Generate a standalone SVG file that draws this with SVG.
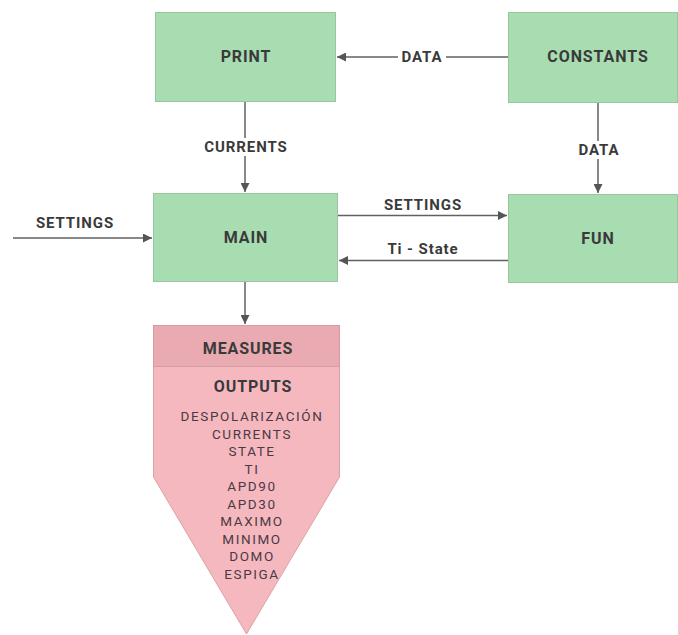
<svg xmlns="http://www.w3.org/2000/svg" width="678" height="635" viewBox="0 0 678 635">
<defs>
<style>
.box{fill:#a8dcb1;stroke:#97c79f;stroke-width:1}
.lbl{font-family:Roboto,"Liberation Sans",sans-serif;font-weight:bold;font-size:16px;fill:#3a3a3a;text-anchor:middle;letter-spacing:0.9px}
.edge{stroke:#616161;stroke-width:1.5;fill:none}
.elbl{font-family:Roboto,"Liberation Sans",sans-serif;font-weight:bold;font-size:15px;fill:#3a3a3a;text-anchor:middle;letter-spacing:0.9px}
.item{font-family:Roboto,"Liberation Sans",sans-serif;font-size:13.5px;fill:#4a3a44;text-anchor:middle;letter-spacing:1.6px}
</style>
<marker id="ah" viewBox="0 0 10 10" refX="10" refY="5" markerWidth="9" markerHeight="9" markerUnits="userSpaceOnUse" orient="auto">
<path d="M0,0 L10,5 L0,10 z" fill="#555"/>
</marker>
</defs>
<rect width="678" height="635" fill="#fff"/>
<g id="connectors">
<line class="edge" x1="508" y1="57" x2="337" y2="57" marker-end="url(#ah)"/>
<rect x="398" y="48" width="48" height="18" fill="#fff"/>
<text class="elbl" x="422" y="62">DATA</text>
<line class="edge" x1="245" y1="101" x2="245" y2="192" marker-end="url(#ah)"/>
<rect x="198" y="138" width="95" height="18" fill="#fff"/>
<text class="elbl" x="246" y="152">CURRENTS</text>
<line class="edge" x1="598" y1="102" x2="598" y2="193" marker-end="url(#ah)"/>
<rect x="574" y="141" width="50" height="18" fill="#fff"/>
<text class="elbl" x="599" y="155">DATA</text>
<line class="edge" x1="13" y1="238" x2="152" y2="238" marker-end="url(#ah)"/>
<text class="elbl" x="75" y="228">SETTINGS</text>
<line class="edge" x1="338" y1="215.5" x2="507" y2="215.5" marker-end="url(#ah)"/>
<text class="elbl" x="423" y="210">SETTINGS</text>
<line class="edge" x1="508" y1="260.5" x2="339" y2="260.5" marker-end="url(#ah)"/>
<text class="elbl" x="423" y="254">Ti - State</text>
<line class="edge" x1="245" y1="282" x2="245" y2="324" marker-end="url(#ah)"/>
</g>
<g id="print">
<rect class="box" x="155.5" y="12.5" width="180" height="89"/>
<text class="lbl" x="246" y="62">PRINT</text>
</g>
<g id="constants">
<rect class="box" x="508.5" y="12.5" width="169" height="90"/>
<text class="lbl" x="598" y="62">CONSTANTS</text>
</g>
<g id="main">
<rect class="box" x="153.5" y="193.5" width="184" height="88"/>
<text class="lbl" x="246" y="243">MAIN</text>
</g>
<g id="fun">
<rect class="box" x="508.5" y="194.5" width="169" height="88"/>
<text class="lbl" x="598" y="244">FUN</text>
</g>
<g id="measures">
<path d="M153.5,366.5 L339.5,366.5 L339.5,477 L246.5,634 L153.5,477 Z" fill="#f6b8bf" stroke="#d9a2a8" stroke-width="1"/>
<rect x="153.5" y="325.5" width="186" height="41" fill="#e9abb1" stroke="#d49ca2" stroke-width="1"/>
<text class="lbl" x="248" y="353.5">MEASURES</text>
<text class="lbl" x="253" y="391.5">OUTPUTS</text>
<text class="item" x="252" y="421">DESPOLARIZACIÓN</text>
<text class="item" x="252" y="438.5">CURRENTS</text>
<text class="item" x="252" y="456">STATE</text>
<text class="item" x="252" y="473.5">TI</text>
<text class="item" x="252" y="491">APD90</text>
<text class="item" x="252" y="508.5">APD30</text>
<text class="item" x="252" y="526">MAXIMO</text>
<text class="item" x="252" y="543.5">MINIMO</text>
<text class="item" x="252" y="561">DOMO</text>
<text class="item" x="252" y="578.5">ESPIGA</text>
</g>
</svg>
